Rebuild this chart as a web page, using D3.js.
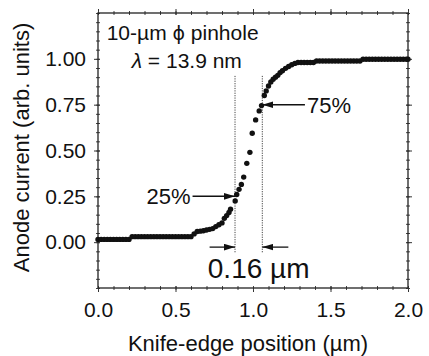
<!DOCTYPE html>
<html>
<head>
<meta charset="utf-8">
<script src="https://cdn.jsdelivr.net/npm/d3@7"></script>
<style>
  body { margin: 0; background: #fff; }
  svg { display: block; font-family: "Liberation Sans", Arial, sans-serif; }
</style>
</head>
<body>
<svg id="chart" width="429" height="356"></svg>
<script>
// knife-edge scan
const knifePos = [
  0.00, 0.02, 0.04, 0.06, 0.08, 0.10, 0.12, 0.14, 0.16, 0.18, 0.20,
  0.22, 0.24, 0.26, 0.28, 0.30, 0.32, 0.34, 0.36, 0.38, 0.40,
  0.42, 0.44, 0.46, 0.48, 0.50, 0.52, 0.54, 0.56, 0.58, 0.60,
  0.62, 0.64, 0.66, 0.68, 0.70, 0.72, 0.74, 0.76, 0.78, 0.80,
  0.815, 0.83, 0.845, 0.855,
  0.885, 0.895, 0.91, 0.925, 0.94, 0.96, 0.98, 0.995,
  1.017, 1.04, 1.055, 1.073, 1.085, 1.10,
  1.115, 1.13, 1.145, 1.16, 1.175, 1.19,
  1.21, 1.23, 1.25, 1.27,
  1.29, 1.31, 1.33, 1.35, 1.37, 1.39,
  1.41, 1.43, 1.45, 1.47, 1.49, 1.51, 1.53, 1.55, 1.57, 1.59, 1.61, 1.63, 1.65, 1.67, 1.69,
  1.71, 1.73, 1.75, 1.77, 1.79, 1.81, 1.83, 1.85, 1.87, 1.89, 1.91, 1.93, 1.95, 1.97, 1.99, 2.00
];
const current = [
  0.015, 0.015, 0.015, 0.015, 0.015, 0.015, 0.015, 0.015, 0.015, 0.015, 0.015,
  0.03, 0.03, 0.03, 0.03, 0.03, 0.03, 0.03, 0.03, 0.03, 0.03,
  0.03, 0.03, 0.03, 0.03, 0.03, 0.03, 0.03, 0.03, 0.03, 0.03,
  0.045, 0.058, 0.060, 0.062, 0.066, 0.070, 0.074, 0.085, 0.095, 0.105,
  0.13, 0.145, 0.162, 0.18,
  0.225, 0.26, 0.288, 0.315, 0.355, 0.43, 0.49, 0.594,
  0.667, 0.716, 0.745, 0.80, 0.825, 0.852,
  0.874, 0.889, 0.90, 0.91, 0.925, 0.935,
  0.948, 0.958, 0.968, 0.975,
  0.98, 0.98, 0.98, 0.98, 0.98, 0.98,
  0.988, 0.988, 0.988, 0.988, 0.988, 0.988, 0.988, 0.988, 0.988, 0.988, 0.988, 0.988, 0.988, 0.988, 0.988,
  0.998, 0.998, 0.998, 0.998, 0.998, 0.998, 0.998, 0.998, 0.998, 0.998, 0.998, 0.998, 0.998, 0.998, 0.998, 0.998
];
const xTicks = [0, 0.5, 1.0, 1.5, 2.0];
const yTicks = [0, 0.25, 0.5, 0.75, 1.0];
// 25% / 75% crossing points and their arrows
const levels = [
  { label: "25%", level: 0.25, from: 0.61, to: 0.884 },
  { label: "75%", level: 0.75, from: 1.335, to: 1.06 }
];
const edgeWidth = "0.16 µm";

const svg = d3.select("#chart");
const margin = { top: 13, right: 21, bottom: 68, left: 98 };
const width = 429 - margin.left - margin.right;
const height = 356 - margin.top - margin.bottom;

const x = d3.scaleLinear().domain([0, 2]).range([0, width]);
const y = d3.scaleLinear().domain([-0.25, 1.25]).range([height, 0]);

svg.append("defs")
  .append("marker")
  .attr("id", "head")
  .attr("viewBox", "0 0 10 6")
  .attr("refX", 10)
  .attr("refY", 3)
  .attr("markerWidth", 11)
  .attr("markerHeight", 7)
  .attr("markerUnits", "userSpaceOnUse")
  .attr("orient", "auto")
  .append("path")
  .attr("d", "M0,0L10,3L0,6Z")
  .attr("fill", "#111");

const g = svg.append("g").attr("transform", `translate(${margin.left},${margin.top})`);

// axes: major ticks (labels only bottom/left), minor ticks crossing the frame
const addAxis = (gen, scale, ticks, minorCount, pos, fmt, attr, inward) => {
  const major = g.append("g").attr("transform", pos)
    .call(gen(scale).tickValues(ticks).tickSize(4).tickPadding(attr === "x1" ? 8 : 10)
      .tickFormat(fmt ? d3.format(fmt) : ""));
  major.select(".domain").remove();
  major.selectAll("text").style("font-size", "21px").attr("fill", "#111");
  major.selectAll("line").attr("stroke", "#333").attr(attr, inward);

  const minor = g.append("g").attr("transform", pos)
    .call(gen(scale).tickValues(scale.ticks(minorCount)).tickSize(2).tickFormat(""));
  minor.select(".domain").remove();
  minor.selectAll("line").attr("stroke", "#444").attr(attr, inward);
};
addAxis(d3.axisBottom, x, xTicks, 20, `translate(0,${height})`, ".1f", "y1", -2);
addAxis(d3.axisTop, x, xTicks, 20, "translate(0,0)", null, "y1", 2);
addAxis(d3.axisLeft, y, yTicks, 30, "translate(0,0)", ".2f", "x1", 2);
addAxis(d3.axisRight, y, yTicks, 30, `translate(${width},0)`, null, "x1", -2);

g.append("rect")
  .attr("width", width)
  .attr("height", height)
  .attr("fill", "none")
  .attr("stroke", "#222")
  .attr("stroke-width", 1.3);

// dotted guides at the 25% and 75% positions
g.selectAll(".guide")
  .data(levels)
  .enter()
  .append("line")
  .attr("x1", (d) => x(d.to))
  .attr("x2", (d) => x(d.to))
  .attr("y1", y(0.907))
  .attr("y2", y(-0.058))
  .attr("stroke", "#444")
  .attr("stroke-width", 1)
  .attr("stroke-dasharray", "1.2,1.2");

// data points
g.append("g")
  .selectAll("circle")
  .data(knifePos)
  .enter()
  .append("circle")
  .attr("cx", (d) => x(d))
  .attr("cy", (d, i) => y(current[i]))
  .attr("r", 2.7)
  .attr("fill", "#111");

// level arrows
g.selectAll(".lvl")
  .data(levels)
  .enter()
  .append("line")
  .attr("x1", (d) => x(d.from))
  .attr("x2", (d) => x(d.to))
  .attr("y1", (d) => y(d.level))
  .attr("y2", (d) => y(d.level))
  .attr("stroke", "#111")
  .attr("stroke-width", 1.5)
  .attr("marker-end", "url(#head)");

g.selectAll(".lvlText")
  .data(levels)
  .enter()
  .append("text")
  .attr("x", (d) => (d.from < d.to ? x(d.from) - 2 : x(d.from) + 2))
  .attr("y", (d) => y(d.level))
  .attr("dy", "0.36em")
  .attr("text-anchor", (d) => (d.from < d.to ? "end" : "start"))
  .style("font-size", "22px")
  .attr("fill", "#111")
  .text((d) => d.label);

// width arrows below the curve
const widthArrows = [
  { from: 0.72, to: levels[0].to },
  { from: 1.228, to: levels[1].to }
];
g.selectAll(".wa")
  .data(widthArrows)
  .enter()
  .append("line")
  .attr("x1", (d) => x(d.from))
  .attr("x2", (d) => x(d.to))
  .attr("y1", y(-0.027))
  .attr("y2", y(-0.027))
  .attr("stroke", "#111")
  .attr("stroke-width", 1.3)
  .attr("marker-end", "url(#head)");

g.append("text")
  .attr("x", (x(levels[0].to) + x(levels[1].to)) / 2 + 10)
  .attr("y", y(-0.195))
  .attr("text-anchor", "middle")
  .style("font-size", "28px")
  .attr("fill", "#111")
  .text(edgeWidth);

// sample description
const pin = g.append("text")
  .attr("x", 8.7)
  .attr("y", 27)
  .style("font-size", "21px")
  .attr("fill", "#111");
pin.append("tspan").text("10-µm ");
pin.append("tspan").style("font-family", "'DejaVu Sans'").style("font-size", "19px").text("ϕ");
pin.append("tspan").text(" pinhole");
const lam = g.append("text")
  .attr("x", 33.7)
  .attr("y", 55)
  .style("font-size", "21px")
  .attr("fill", "#111");
lam.append("tspan").style("font-style", "italic").text("λ");
lam.append("tspan").text(" = 13.9 nm");

// axis titles
svg.append("text")
  .attr("x", margin.left + width / 2 - 5)
  .attr("y", 351)
  .attr("text-anchor", "middle")
  .style("font-size", "22px")
  .attr("fill", "#111")
  .text("Knife-edge position (µm)");
svg.append("text")
  .attr("transform", "translate(29,147.5) rotate(-90)")
  .attr("text-anchor", "middle")
  .style("font-size", "22px")
  .attr("fill", "#111")
  .text("Anode current (arb. units)");
</script>
</body>
</html>
